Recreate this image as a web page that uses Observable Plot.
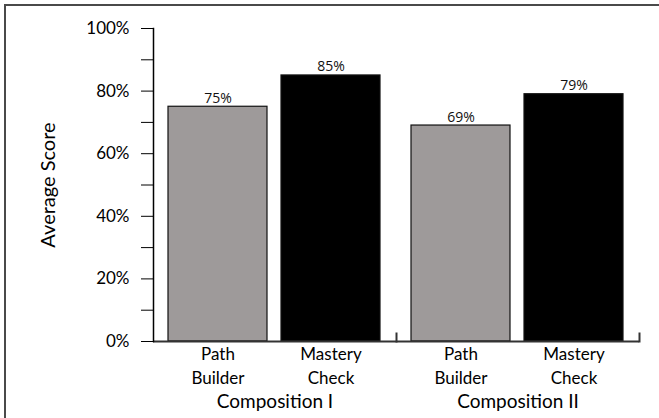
<!DOCTYPE html>
<html><head><meta charset="utf-8">
<script src="https://cdn.jsdelivr.net/npm/d3@7"></script>
<script src="https://cdn.jsdelivr.net/npm/@observablehq/plot@0.6"></script>
<style>
html,body{margin:0;padding:0;background:#fff;}
#wrap{position:absolute;left:0;top:0;width:659px;height:418px;overflow:hidden;}
#border{position:absolute;left:4px;top:4px;width:700px;height:500px;border-left:2px solid #4a4a4a;border-top:2px solid #4a4a4a;box-sizing:border-box;}
#chart{position:absolute;left:0;top:0;}
</style></head><body>
<div id="wrap"><div id="border"></div><div id="chart"></div></div>
<script>
const compositions = ["Composition I", "Composition II"];
const activities = ["Path Builder", "Mastery Check"];
const activityLabels = ["Path\nBuilder", "Mastery\nCheck"];
const scoresPathBuilder = [75, 69];
const scoresMasteryCheck = [85, 79];
const yTicks = [0, 10, 20, 30, 40, 50, 60, 70, 80, 90, 100];
const yLabel = "Average Score";

const data = [];
compositions.forEach((c, i) => {
  data.push({composition: c, activity: activities[0], score: scoresPathBuilder[i]});
  data.push({composition: c, activity: activities[1], score: scoresMasteryCheck[i]});
});

const plot = Plot.plot({
  width: 659,
  height: 418,
  marginLeft: 153,
  marginRight: 20,
  marginTop: 28,
  marginBottom: 77,
  style: {fontFamily: "Lato, sans-serif", background: "transparent", color: "#000", overflow: "visible"},
  fx: {domain: compositions, padding: 0, axis: null},
  x: {domain: activities, paddingInner: 0.12, paddingOuter: 0.13, axis: null},
  y: {domain: [0, 100], axis: null},
  color: {domain: activities, range: ["#9e9a9a", "#000000"]},
  marks: [
    Plot.barY(data, {fx: "composition", x: "activity", y: "score", fill: "activity", stroke: "#111", strokeWidth: 1.2}),
    Plot.text(data, {fx: "composition", x: "activity", y: "score", text: d => d.score + "%", lineAnchor: "bottom", dy: -4, fontSize: 14, fontFamily: "Open Sans, sans-serif", fill: "#111"}),
    Plot.ruleY([0], {stroke: "#333", strokeWidth: 2}),
    Plot.frame({anchor: "right", insetTop: 305, stroke: "#333", strokeWidth: 2}),
    Plot.frame({anchor: "left", facetAnchor: "left", stroke: "#000", strokeWidth: 1.5}),
    Plot.axisY({ticks: yTicks, tickSize: 12, tickPadding: 12, tickFormat: d => d % 20 === 0 ? d + "%" : "", fontSize: 17, label: null, facetAnchor: "left"}),
    Plot.axisX({anchor: "bottom", tickSize: 0, tickPadding: 1, tickFormat: d => activityLabels[activities.indexOf(d)], fontSize: 17, lineHeight: 1.42, label: null}),
    Plot.axisFx({anchor: "bottom", tickSize: 0, tickPadding: 53, fontSize: 19, label: null}),
    Plot.text([yLabel], {text: d => d, frameAnchor: "left", textAnchor: "middle", rotate: -90, dx: -105, fontSize: 20, facetAnchor: "left"})
  ]
});
document.getElementById("chart").appendChild(plot);
</script>
</body></html>
